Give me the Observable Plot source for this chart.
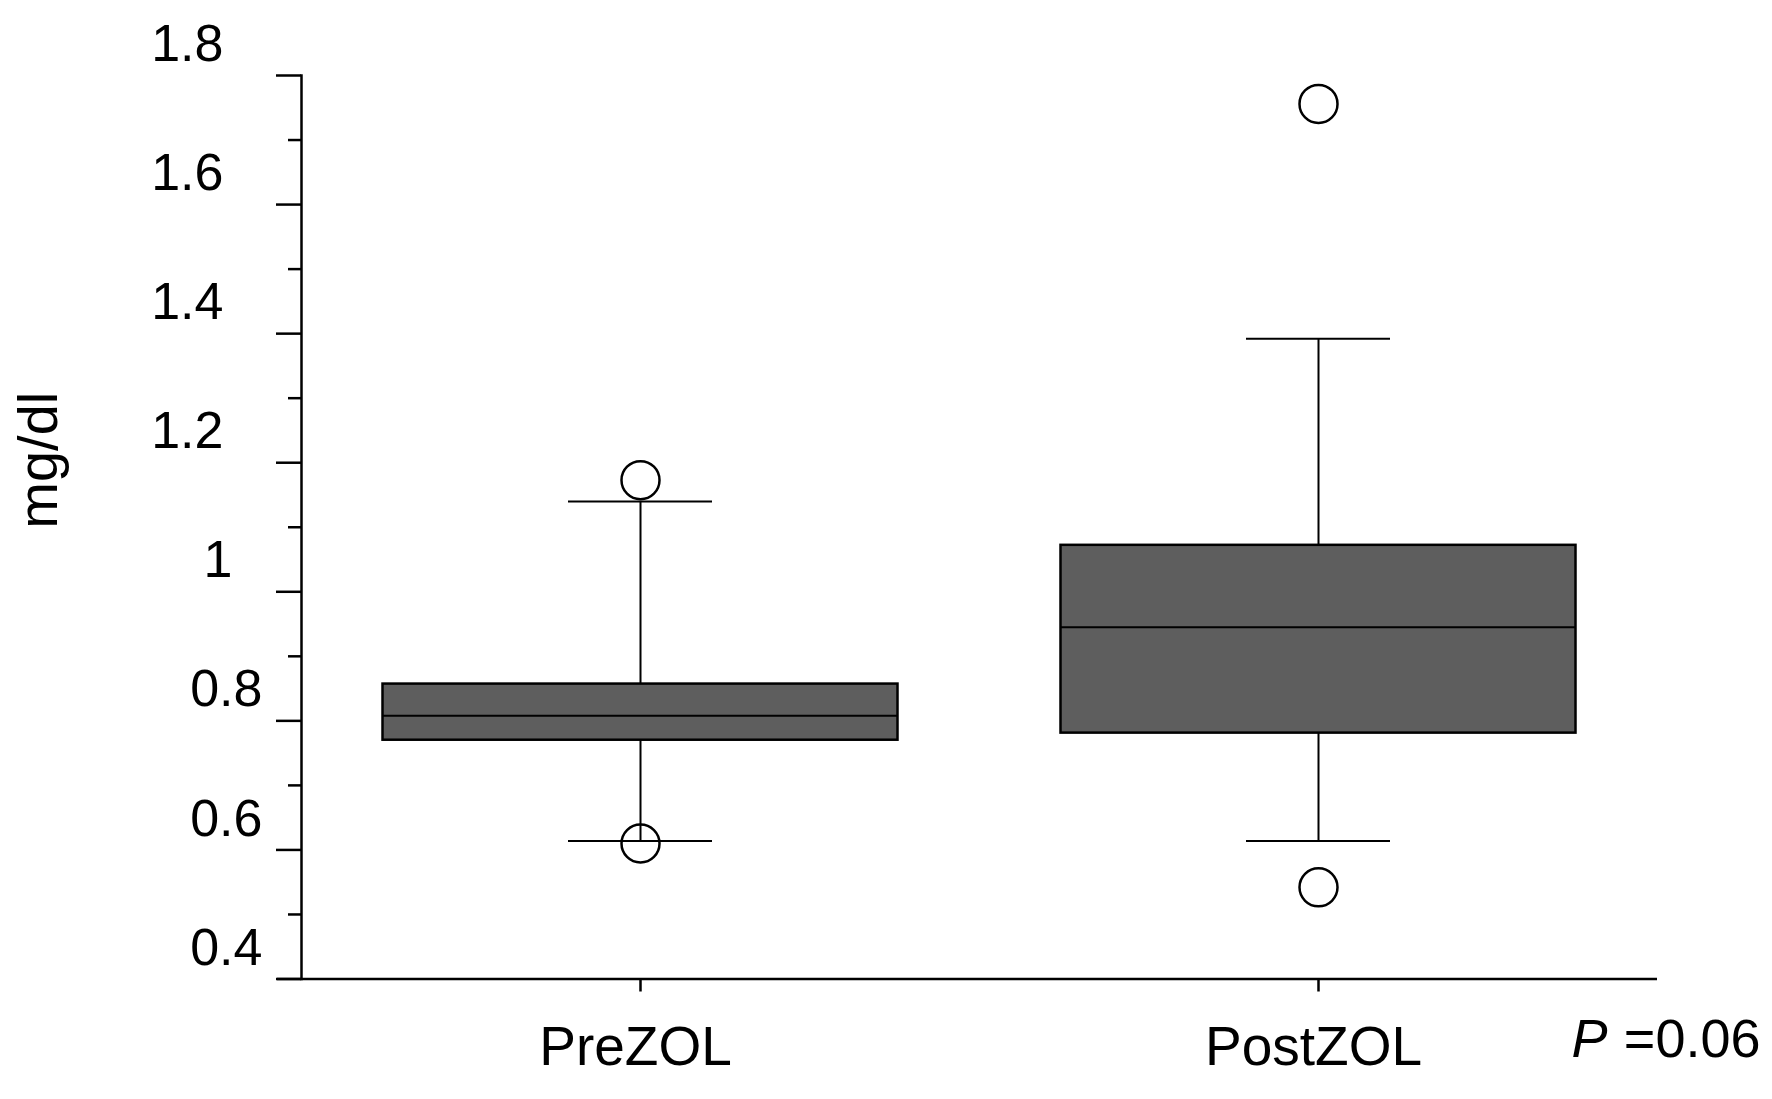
<!DOCTYPE html>
<html>
<head>
<meta charset="utf-8">
<script src="https://cdn.jsdelivr.net/npm/d3@7"></script>
<script src="https://cdn.jsdelivr.net/npm/@observablehq/plot@0.6"></script>
<style>
  html, body { margin: 0; padding: 0; background: #fff; }
  svg { font-family: "Liberation Sans", Arial, sans-serif; }
</style>
</head>
<body>
<div id="chart"></div>
<script>
// ---- data ----
const groups   = ["PreZOL", "PostZOL"];
const lowWhisk = [0.614, 0.614];
const q1       = [0.770, 0.781];
const median   = [0.808, 0.945];
const q3       = [0.857, 1.072];
const highWhisk= [1.140, 1.392];
const outlierGroup = ["PreZOL", "PreZOL", "PostZOL", "PostZOL"];
const outlierValue = [1.173, 0.610, 1.756, 0.542];
const majorTicks = [0.4, 0.6, 0.8, 1.0, 1.2, 1.4, 1.6, 1.8];
const minorTicks = [0.5, 0.7, 0.9, 1.1, 1.3, 1.5, 1.7];
const labelsBelowOne = [0.4, 0.6, 0.8];
const labelOne = [1];
const labelsAboveOne = [1.2, 1.4, 1.6, 1.8];
const yLabel = "mg/dl";
const pLabel = "P";
const pValue = "=0.06";

const stats = groups.map((g, i) => ({
  group: g, lo: lowWhisk[i], q1: q1[i], median: median[i], q3: q3[i], hi: highWhisk[i]
}));
const outliers = outlierGroup.map((g, i) => ({group: g, value: outlierValue[i]}));

const W = 1772, H = 1099;
const boxInset = 81.5, capInset = 267;
const fs = 52;

const chart = Plot.plot({
  width: W,
  height: H,
  marginLeft: 301,
  marginRight: 115,
  marginTop: 75,
  marginBottom: 120.5,
  style: {fontFamily: '"Liberation Sans", Arial, sans-serif', color: "black", background: "white"},
  x: {type: "band", domain: groups, padding: 0, axis: null},
  y: {domain: [0.4, 1.8], axis: null, label: null},
  marks: [
    // y axis line
    Plot.frame({anchor: "left", stroke: "black", strokeWidth: 2.5}),
    // major and minor tick marks
    Plot.axisY(majorTicks, {tickSize: 25, strokeWidth: 2.5, fill: "none", label: null}),
    Plot.axisY(minorTicks, {tickSize: 13, strokeWidth: 2.5, fill: "none", label: null}),
    // tick labels (offset as in the reference)
    Plot.axisY(labelsBelowOne, {tickSize: 0, tickPadding: 0, dx: -39, dy: -31, fontSize: fs, fill: "black", label: null, tickFormat: d => String(d)}),
    Plot.axisY(labelOne, {tickSize: 0, tickPadding: 0, dx: -69, dy: -31, fontSize: fs, fill: "black", label: null, tickFormat: d => String(d)}),
    Plot.axisY(labelsAboveOne, {tickSize: 0, tickPadding: 0, dx: -78, dy: -31, fontSize: fs, fill: "black", label: null, tickFormat: d => String(d)}),
    // x axis line
    Plot.ruleY([0.4], {stroke: "black", strokeWidth: 2.5, insetLeft: -24}),
    // x axis ticks
    Plot.axisX({tickSize: 13, strokeWidth: 2.5, fill: "none", label: null}),
    // x axis labels
    Plot.axisX({tickSize: 0, tickPadding: 47, fontSize: 55, fill: "black", dx: -5, label: null}),
    // whiskers
    Plot.ruleX(stats, {x: "group", y1: "lo", y2: "hi", stroke: "black", strokeWidth: 2}),
    // boxes
    Plot.barY(stats, {x: "group", y1: "q1", y2: "q3", fill: "#5e5e5e", stroke: "black", strokeWidth: 2.5, insetLeft: boxInset, insetRight: boxInset}),
    // medians
    Plot.tickY(stats, {x: "group", y: "median", stroke: "black", strokeWidth: 2, insetLeft: boxInset, insetRight: boxInset}),
    // whisker caps
    Plot.tickY(stats, {x: "group", y: "lo", stroke: "black", strokeWidth: 2, insetLeft: capInset, insetRight: capInset}),
    Plot.tickY(stats, {x: "group", y: "hi", stroke: "black", strokeWidth: 2, insetLeft: capInset, insetRight: capInset}),
    // outliers
    Plot.dot(outliers, {x: "group", y: "value", r: 19, stroke: "black", strokeWidth: 2.5, fill: "none"}),
    // y axis title
    Plot.text([yLabel], {frameAnchor: "left", rotate: -90, dx: -262, dy: -67, fontSize: 56, fill: "black", textAnchor: "middle"}),
    // P value annotation
    Plot.text([pLabel], {frameAnchor: "bottom-right", dx: -86, dy: 77.5, fontSize: 54, fill: "black", textAnchor: "start", fontStyle: "italic"}),
    Plot.text([pValue], {frameAnchor: "bottom-right", dx: 103, dy: 77.5, fontSize: 54, fill: "black", textAnchor: "end"})
  ]
});
document.getElementById("chart").appendChild(chart);
</script>
</body>
</html>
